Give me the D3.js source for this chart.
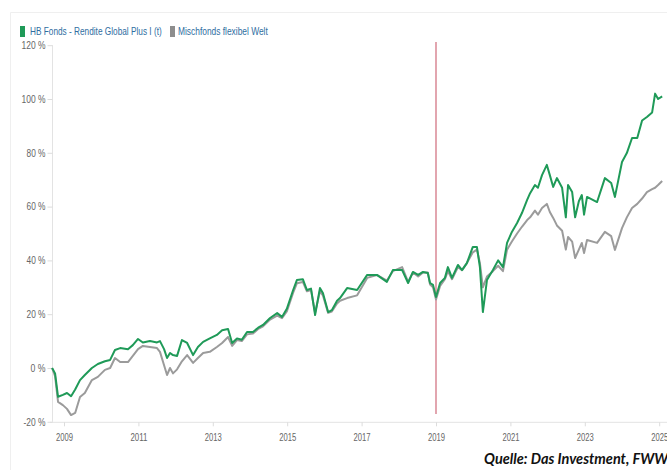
<!DOCTYPE html>
<html><head><meta charset="utf-8">
<script src="https://cdn.jsdelivr.net/npm/d3@7"></script>
<style>
html,body{margin:0;padding:0;background:#fff;}
svg{display:block;}
</style></head>
<body>
<svg id="c" width="667" height="470"></svg>
<script>
// ---- data ----
const dates = [2008.68,2008.76,2008.84,2008.97,2009.08,2009.19,2009.30,2009.43,2009.56,2009.75,2009.91,2010.10,2010.24,2010.37,2010.51,2010.72,2010.85,2010.99,2011.12,2011.31,2011.50,2011.58,2011.69,2011.77,2011.85,2011.93,2012.04,2012.17,2012.31,2012.47,2012.60,2012.74,2012.92,2013.11,2013.25,2013.41,2013.52,2013.65,2013.78,2013.92,2014.08,2014.22,2014.35,2014.54,2014.73,2014.86,2014.99,2015.16,2015.26,2015.42,2015.53,2015.64,2015.75,2015.88,2015.96,2016.10,2016.20,2016.34,2016.42,2016.61,2016.88,2017.15,2017.41,2017.68,2017.84,2018.09,2018.25,2018.38,2018.52,2018.65,2018.78,2018.84,2018.92,2019.00,2019.11,2019.24,2019.32,2019.43,2019.59,2019.70,2019.83,2019.99,2020.10,2020.18,2020.26,2020.37,2020.53,2020.67,2020.80,2020.91,2021.04,2021.18,2021.31,2021.45,2021.53,2021.66,2021.74,2021.85,2021.98,2022.06,2022.15,2022.25,2022.39,2022.49,2022.55,2022.66,2022.74,2022.84,2022.92,2022.98,2023.06,2023.33,2023.54,2023.71,2023.81,2024.00,2024.13,2024.27,2024.41,2024.54,2024.67,2024.81,2024.89,2024.97,2025.08];
const hbFonds = [0,-2,-10.7,-10,-9.3,-10.5,-8,-4.5,-2.6,0,1.5,2.5,3,6.7,7.4,7,8.5,10.8,9.5,10,9.5,10,7,3.7,5.6,4.8,4.5,10.4,9.3,4.8,7.8,9.7,11,12.3,14,14.5,9.3,11,10.5,13.4,13.4,15,16,18.6,20.4,19,22,29,32.7,33,29,29.5,19.7,29.7,27.9,20.8,21.5,25,26,29.7,29,34.6,34.6,32,36.4,36.4,31.6,35.7,34.6,35.7,35.3,31.6,30.9,26.4,31.6,33.5,37.5,33.5,38.3,36.4,39,45,45,37.5,20.8,32.7,36.4,40,37.5,46.5,50.6,53.9,57.6,62.5,65,68,67,71.7,75.5,71.7,67.3,70.6,67,56,68,65.4,56,62,64.3,57,63.6,61.7,70.6,68.8,63.6,76.6,79.9,85.5,85.5,92,93.3,95,102,100,101];
const mischfonds = [0,-3,-12.6,-13.8,-15.2,-17.5,-16.7,-10.8,-9.3,-4.5,-3.3,-0.7,0,3.7,2.2,2.2,4.5,7,8.2,7.8,7.4,6,1,-2.6,0,-2,-0.5,2.5,4.8,1.9,3.7,5.6,6,7.8,9.3,11.5,8.2,10.4,10,12.5,12.8,14.5,15.5,18,19.5,18.5,21,28,31.5,32,28.5,29,20.5,28.5,27,20.5,21,24,25,26,27,33.5,34.6,32.5,36,37.5,32,35.5,34,35.5,35.5,31,30,25.5,30.5,33,36,33,37.5,36.4,39,43,44,39,30,34,36,38,36,44,47,50,52.5,55,56,58.5,57,59.5,61,58,55.8,53,51,44,48.7,47,40.9,44,46.5,42.7,47.6,46.5,50.6,49,43.9,52,56,59.5,61,63,65.4,66.5,67,68,69.5];
const seriesNames = ["HB Fonds - Rendite Global Plus I (t)", "Mischfonds flexibel Welt"];
const yTicks = [-20,0,20,40,60,80,100,120];
const yTickLabels = ["-20 %","0 %","20 %","40 %","60 %","80 %","100 %","120 %"];
const xTicks = [2009,2011,2013,2015,2017,2019,2021,2023,2025];
const markerYear = 2019.0;
const sourceText = "Quelle: Das Investment, FWW";

// ---- drawing ----
const svg = d3.select("#c");
const green = "#1f9a58", gray = "#9b9b9b";
const x = d3.scaleLinear().domain([2009, 2025]).range([64, 659.2]);
const y = d3.scaleLinear().domain([-20, 120]).range([421.8, 45.2]);

// card border
svg.append("path").attr("d","M10.5,470 V12.5 H667").attr("fill","none").attr("stroke","#efefef");

// axis lines
svg.append("line").attr("x1",52.5).attr("x2",52.5).attr("y1",y(120)).attr("y2",y(-20)).attr("stroke","#e3e3e3");
svg.append("line").attr("x1",50).attr("x2",667).attr("y1",y(-20)+0.5).attr("y2",y(-20)+0.5).attr("stroke","#e3e3e3");

// y axis
const yAxis = d3.axisLeft(y).tickValues(yTicks).tickSize(5).tickPadding(3)
  .tickFormat((d,i)=>yTickLabels[i]);
const gy = svg.append("g").attr("transform","translate(52.5,0)").call(yAxis);
gy.select(".domain").remove();
gy.selectAll(".tick line").attr("stroke","#dcdcdc");
gy.selectAll(".tick text").attr("fill","#666").attr("font-family","Liberation Sans, Arial, sans-serif")
  .attr("font-size","10px").attr("x",-7)
  .attr("textLength", d => d===100||d===120 ? 24 : (d===-20?22:(d===0?15:19)))
  .attr("lengthAdjust","spacingAndGlyphs");

// x axis
const xAxis = d3.axisBottom(x).tickValues(xTicks).tickFormat(d3.format("d")).tickSize(4).tickPadding(8);
const gx = svg.append("g").attr("transform",`translate(0,${y(-20)+0.5})`).call(xAxis);
gx.select(".domain").remove();
gx.selectAll(".tick line").attr("stroke","#dcdcdc");
gx.selectAll(".tick text").attr("fill","#666").attr("font-family","Liberation Sans, Arial, sans-serif")
  .attr("font-size","10px").attr("textLength",17).attr("lengthAdjust","spacingAndGlyphs");

// marker line
svg.append("line").attr("x1",x(markerYear)).attr("x2",x(markerYear)).attr("y1",42).attr("y2",414)
  .attr("stroke","#cf6a7a").attr("stroke-width",1.2);

// series lines
const line = vals => d3.line().x((d,i)=>x(dates[i])).y(d=>y(d)).curve(d3.curveLinear)(vals);
svg.append("path").attr("d",line(mischfonds)).attr("fill","none").attr("stroke",gray).attr("stroke-width",2).attr("stroke-linejoin","round");
svg.append("path").attr("d",line(hbFonds)).attr("fill","none").attr("stroke",green).attr("stroke-width",2).attr("stroke-linejoin","round");

// legend (condensed via horizontal scale so bounding boxes stay exact)
function condensed(tx, ty, str, targetW){
  const t = svg.append("text").text(str).attr("fill","#2f6d9f")
    .attr("font-family","Liberation Sans, Arial, sans-serif").attr("font-size","10px");
  const w = t.node().getComputedTextLength();
  t.attr("transform",`translate(${tx},${ty}) scale(${targetW/w},1)`);
}
svg.append("rect").attr("x",20).attr("y",26).attr("width",5).attr("height",11).attr("fill",green);
condensed(30, 35, seriesNames[0], 132);
svg.append("rect").attr("x",170).attr("y",26).attr("width",5).attr("height",11).attr("fill","#8d8d8d");
condensed(178, 35, seriesNames[1], 90);

// source
svg.append("text").attr("x",484).attr("y",464).text(sourceText)
  .attr("font-family","Lato, 'Open Sans', sans-serif").attr("font-style","italic").attr("font-weight","bold")
  .attr("font-size","14.5px").attr("fill","#111");
</script>
</body></html>
